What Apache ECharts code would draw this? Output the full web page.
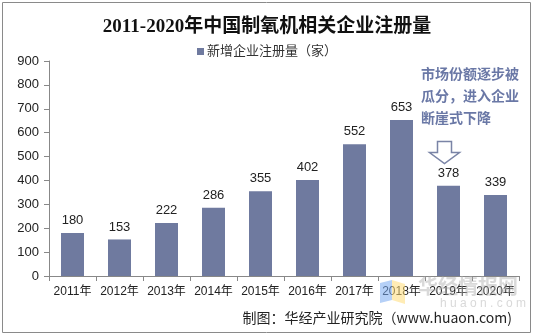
<!DOCTYPE html>
<html>
<head>
<meta charset="utf-8">
<script src="https://cdn.jsdelivr.net/npm/echarts@6/dist/echarts.min.js"></script>
<style>
  html, body { margin: 0; padding: 0; background: #fff; }
  #chart { width: 534px; height: 336px; }
</style>
</head>
<body>
<div id="chart"></div>
<script>
// Newly registered oxygen-machine enterprises per year
const years = ['2011年', '2012年', '2013年', '2014年', '2015年', '2016年', '2017年', '2018年', '2019年', '2020年'];
const registrations = [180, 153, 222, 286, 355, 402, 552, 653, 378, 339];
const yTicks = { min: 0, max: 900, interval: 100 };

const barColor = '#6f7a9f';
const noteColor = '#6a78a6';
const sansLatin = '"Liberation Sans", Arial, "Noto Sans CJK SC", sans-serif';

const chart = echarts.init(document.getElementById('chart'), null, { renderer: 'canvas' });

chart.setOption({
  animation: false,
  backgroundColor: '#fff',
  title: {
    text: '2011-2020年中国制氧机相关企业注册量',
    left: 'center',
    top: 13,
    textStyle: {
      fontFamily: '"Liberation Serif", "DejaVu Serif", "Noto Sans CJK SC", serif',
      fontSize: 19,
      fontWeight: 'bold',
      color: '#111'
    }
  },
  legend: {
    top: 40,
    left: 'center',
    itemWidth: 7,
    itemHeight: 7,
    itemGap: 4,
    icon: 'rect',
    textStyle: { fontFamily: sansLatin, fontSize: 13, color: '#333', padding: [0, 0, 0, -2] },
    data: ['新增企业注册量（家）']
  },
  grid: { left: 49, right: 15, top: 61, bottom: 60, containLabel: false },
  xAxis: {
    type: 'category',
    data: years,
    axisLine: { lineStyle: { color: '#888', width: 1 } },
    axisTick: { show: true, alignWithLabel: false, length: 5, lineStyle: { color: '#888' } },
    axisLabel: { fontFamily: sansLatin, fontSize: 12, color: '#222', margin: 10, interval: 0 }
  },
  yAxis: {
    type: 'value',
    min: yTicks.min,
    max: yTicks.max,
    interval: yTicks.interval,
    splitLine: { show: false },
    axisLine: { show: true, lineStyle: { color: '#888', width: 1 } },
    axisTick: { show: true, inside: false, length: 5, lineStyle: { color: '#888' } },
    axisLabel: { fontFamily: sansLatin, fontSize: 13, color: '#222', margin: 10 }
  },
  series: [{
    name: '新增企业注册量（家）',
    type: 'bar',
    data: registrations,
    barWidth: 23,
    itemStyle: { color: barColor },
    label: {
      show: true,
      position: 'top',
      distance: 6,
      fontFamily: sansLatin,
      fontSize: 13,
      color: '#222'
    }
  }],
  graphic: [
    // outer frame
    {
      type: 'rect',
      shape: { x: 2.5, y: 2.5, width: 528, height: 330 },
      style: { fill: 'none', stroke: '#8a8a8a', lineWidth: 1 },
      z: 0
    },
    // faint watermark
    {
      type: 'polygon',
      shape: { points: [[380, 283], [392, 280], [392, 300], [380, 303]] },
      style: { fill: 'rgba(120,170,240,0.55)' },
      z: 1
    },
    {
      type: 'polygon',
      shape: { points: [[392, 280], [405, 284], [405, 304], [392, 300]] },
      style: { fill: 'rgba(255,220,120,0.55)' },
      z: 1
    },
    {
      type: 'text',
      left: 418, top: 276,
      style: {
        text: '华经情报网',
        font: 'bold 20px "Noto Sans CJK SC", sans-serif',
        fill: 'rgba(170,170,170,0.45)'
      },
      z: 1
    },
    {
      type: 'text',
      left: 440, top: 298,
      style: {
        text: 'h u a o n . c o m',
        font: '12px "Liberation Sans", sans-serif',
        fill: 'rgba(180,180,180,0.5)'
      },
      z: 1
    },
    // annotation
    {
      type: 'text',
      left: 421, top: 63,
      style: {
        text: '市场份额逐步被\n瓜分，进入企业\n断崖式下降',
        font: 'bold 14px "Noto Sans CJK SC", sans-serif',
        fill: noteColor,
        lineHeight: 22
      },
      z: 5
    },
    {
      type: 'polygon',
      shape: { points: [[437.5, 141.5], [451.5, 141.5], [451.5, 152.5], [459.5, 152.5], [444.5, 163.5], [429.5, 152.5], [437.5, 152.5]] },
      style: { fill: '#fff', stroke: '#7a84a6', lineWidth: 1.5 },
      z: 5
    },
    // source note
    {
      type: 'text',
      right: 22, top: 311,
      style: {
        text: '制图：华经产业研究院（www.huaon.com)',
        font: '14px "Noto Sans CJK SC", sans-serif',
        fill: '#222'
      },
      z: 5
    }
  ]
});
</script>
</body>
</html>
